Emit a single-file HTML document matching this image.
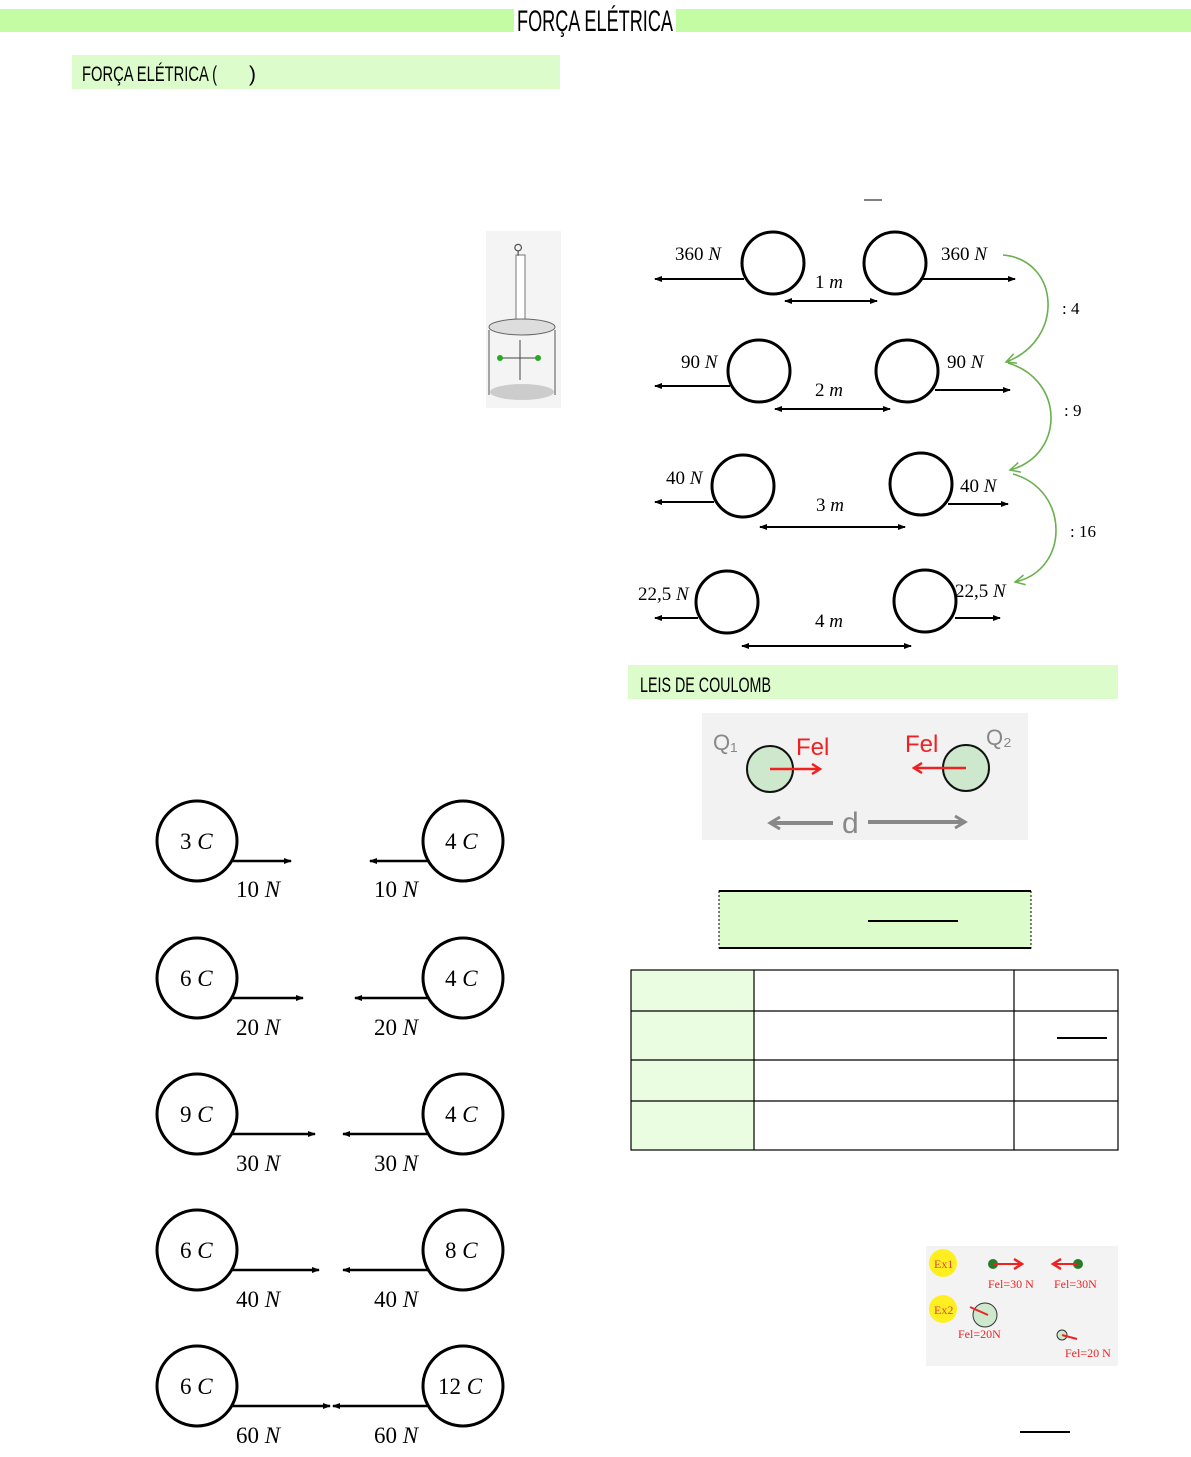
<!DOCTYPE html>
<html><head><meta charset="utf-8"><style>
html,body{margin:0;padding:0;background:#fff;}
svg{display:block;}
.h{font-family:"Liberation Sans Narrow","Liberation Sans",sans-serif;}
.m{font-family:"Liberation Serif",serif;font-size:19px;}
.i{font-style:italic;}
</style></head><body>
<svg width="1191" height="1457" viewBox="0 0 1191 1457" xmlns="http://www.w3.org/2000/svg">
<defs>
<marker id="a" markerWidth="8" markerHeight="8" refX="7" refY="4" orient="auto-start-reverse" markerUnits="userSpaceOnUse"><path d="M0,1 L8,4 L0,7 Z" fill="#000"/></marker>
<marker id="gr" markerWidth="16" markerHeight="16" refX="12" refY="8" orient="auto" markerUnits="userSpaceOnUse"><path d="M2,2 L12,8 L2,14" fill="none" stroke="#888" stroke-width="3"/></marker>
<marker id="g" markerWidth="12" markerHeight="12" refX="10" refY="6" orient="auto" markerUnits="userSpaceOnUse"><path d="M0,1 L10,6 L0,11" fill="none" stroke="#6ab04c" stroke-width="1.5"/></marker>
<marker id="r" markerWidth="12" markerHeight="12" refX="9" refY="6" orient="auto" markerUnits="userSpaceOnUse"><path d="M1,1 L9,6 L1,11" fill="none" stroke="#e22" stroke-width="2.5"/></marker>
</defs>
<!-- header -->
<rect x="0" y="9" width="1191" height="23" fill="#c4fca4"/>
<rect x="514" y="0" width="162" height="38" fill="#fff"/>
<text x="517" y="31" class="h" font-size="30" textLength="156" lengthAdjust="spacingAndGlyphs">FORÇA ELÉTRICA</text>
<rect x="72" y="55" width="488" height="34" fill="#dcfccc"/>
<text x="82" y="81" class="h" font-size="21" textLength="135" lengthAdjust="spacingAndGlyphs">FORÇA ELÉTRICA (</text>
<text x="249" y="81" class="h" font-size="21">)</text>
<!-- bobina image -->
<rect x="486" y="231" width="75" height="177" fill="#f4f4f4"/>
<rect x="516" y="255" width="9" height="70" fill="#fff" stroke="#777"/>
<text x="513" y="254" font-size="14" fill="#555">⚲</text>
<ellipse cx="522" cy="327" rx="33" ry="8" fill="#ddd" stroke="#666"/>
<path d="M489,330 V395 M555,330 V395" stroke="#555"/>
<ellipse cx="522" cy="392" rx="32" ry="8" fill="#ccc"/>
<path d="M500,358 H538 M520,340 V380" stroke="#444"/>
<circle cx="500" cy="358" r="3" fill="#2a2"/><circle cx="538" cy="358" r="3" fill="#2a2"/>
<!-- right diagram -->
<line x1="864" y1="200" x2="882" y2="200" stroke="#000"/>
<g fill="none" stroke="#000" stroke-width="3">
<circle cx="773" cy="263" r="31"/><circle cx="895" cy="263" r="31"/>
<circle cx="759" cy="371" r="31"/><circle cx="907" cy="371" r="31"/>
<circle cx="743" cy="486" r="31"/><circle cx="921" cy="484" r="31"/>
<circle cx="727" cy="602" r="31"/><circle cx="925" cy="601" r="31"/>
</g>
<g stroke="#000" stroke-width="2">
<line x1="744" y1="279" x2="655" y2="279" marker-end="url(#a)"/>
<line x1="920" y1="279" x2="1015" y2="279" marker-end="url(#a)"/>
<line x1="785" y1="301" x2="877" y2="301" marker-start="url(#a)" marker-end="url(#a)"/>
<line x1="730" y1="386" x2="655" y2="386" marker-end="url(#a)"/>
<line x1="935" y1="390" x2="1010" y2="390" marker-end="url(#a)"/>
<line x1="775" y1="409" x2="890" y2="409" marker-start="url(#a)" marker-end="url(#a)"/>
<line x1="714" y1="502" x2="655" y2="502" marker-end="url(#a)"/>
<line x1="948" y1="504" x2="1008" y2="504" marker-end="url(#a)"/>
<line x1="760" y1="527" x2="905" y2="527" marker-start="url(#a)" marker-end="url(#a)"/>
<line x1="698" y1="618" x2="655" y2="618" marker-end="url(#a)"/>
<line x1="955" y1="618" x2="1000" y2="618" marker-end="url(#a)"/>
<line x1="742" y1="646" x2="911" y2="646" marker-start="url(#a)" marker-end="url(#a)"/>
</g>
<g class="m">
<text x="675" y="260">360 <tspan class="i">N</tspan></text>
<text x="815" y="288">1 <tspan class="i">m</tspan></text>
<text x="941" y="260">360 <tspan class="i">N</tspan></text>
<text x="681" y="368">90 <tspan class="i">N</tspan></text>
<text x="815" y="396">2 <tspan class="i">m</tspan></text>
<text x="947" y="368">90 <tspan class="i">N</tspan></text>
<text x="666" y="484">40 <tspan class="i">N</tspan></text>
<text x="816" y="511">3 <tspan class="i">m</tspan></text>
<text x="960" y="492">40 <tspan class="i">N</tspan></text>
<text x="638" y="600">22,5 <tspan class="i">N</tspan></text>
<text x="815" y="627">4 <tspan class="i">m</tspan></text>
<text x="955" y="597">22,5 <tspan class="i">N</tspan></text>
<text x="1062" y="314" font-size="17">: 4</text>
<text x="1064" y="416" font-size="17">: 9</text>
<text x="1070" y="537" font-size="17">: 16</text>
</g>
<g fill="none" stroke="#6ab04c" stroke-width="1.6">
<path d="M1003,255 C1060,260 1065,340 1006,362" marker-end="url(#g)"/>
<path d="M1008,363 C1065,380 1065,455 1010,470" marker-end="url(#g)"/>
<path d="M1013,474 C1070,490 1070,570 1015,582" marker-end="url(#g)"/>
</g>
<!-- Leis de coulomb -->
<rect x="628" y="665" width="490" height="34" fill="#dcfccc"/>
<text x="640" y="692" class="h" font-size="21" textLength="131" lengthAdjust="spacingAndGlyphs">LEIS DE COULOMB</text>
<rect x="702" y="713" width="326" height="127" fill="#f2f2f2"/>
<circle cx="770" cy="769" r="23" fill="#cde8cc" stroke="#111" stroke-width="2"/>
<circle cx="966" cy="768" r="23" fill="#cde8cc" stroke="#111" stroke-width="2"/>
<line x1="770" y1="769" x2="820" y2="769" stroke="#e22" stroke-width="2.5" marker-end="url(#r)"/>
<line x1="966" y1="768" x2="914" y2="768" stroke="#e22" stroke-width="2.5" marker-end="url(#r)"/>
<text x="796" y="755" font-size="24" fill="#e22" font-family="Liberation Sans">Fel</text>
<text x="905" y="752" font-size="24" fill="#e22" font-family="Liberation Sans">Fel</text>
<text x="713" y="750" font-size="22" fill="#888" font-family="Liberation Sans">Q₁</text>
<text x="986" y="745" font-size="22" fill="#888" font-family="Liberation Sans">Q₂</text>
<line x1="833" y1="823" x2="770" y2="823" stroke="#888" stroke-width="4" marker-end="url(#gr)"/>
<line x1="868" y1="822" x2="965" y2="822" stroke="#888" stroke-width="4" marker-end="url(#gr)"/>
<text x="842" y="833" font-size="30" fill="#888" font-family="Liberation Sans">d</text>
<rect x="719" y="891" width="312" height="57" fill="#dcfccc" stroke="#000" stroke-dasharray="2,2"/>
<line x1="719" y1="891" x2="1031" y2="891" stroke="#000" stroke-width="2"/>
<line x1="719" y1="948" x2="1031" y2="948" stroke="#000" stroke-width="2"/>
<line x1="868" y1="921" x2="958" y2="921" stroke="#000" stroke-width="2"/>
<!-- table -->
<rect x="631" y="970" width="123" height="180" fill="#ebfde0"/>
<g stroke="#000" stroke-width="1.2" fill="none">
<rect x="631" y="970" width="487" height="180"/>
<line x1="754" y1="970" x2="754" y2="1150"/><line x1="1014" y1="970" x2="1014" y2="1150"/>
<line x1="631" y1="1011" x2="1118" y2="1011"/><line x1="631" y1="1060" x2="1118" y2="1060"/><line x1="631" y1="1101" x2="1118" y2="1101"/>
</g>
<line x1="1057" y1="1038" x2="1107" y2="1038" stroke="#000" stroke-width="2"/>
<!-- example image -->
<rect x="926" y="1246" width="192" height="120" fill="#f3f3f3"/>
<circle cx="943" cy="1263" r="14" fill="#ffef20"/><circle cx="943" cy="1309" r="14" fill="#ffef20"/>
<text x="934" y="1268" font-size="12" fill="#d44">Ex1</text><text x="934" y="1314" font-size="12" fill="#d44">Ex2</text>
<circle cx="993" cy="1264" r="5" fill="#2a7a2a"/><circle cx="1078" cy="1264" r="5" fill="#2a7a2a"/>
<line x1="994" y1="1264" x2="1022" y2="1264" stroke="#e22" stroke-width="2" marker-end="url(#r)"/>
<line x1="1077" y1="1264" x2="1053" y2="1264" stroke="#e22" stroke-width="2" marker-end="url(#r)"/>
<text x="988" y="1288" font-size="12" fill="#e22">Fel=30 N</text><text x="1054" y="1288" font-size="12" fill="#e22">Fel=30N</text>
<circle cx="985" cy="1315" r="12" fill="#cde8cc" stroke="#333"/>
<line x1="988" y1="1315" x2="970" y2="1307" stroke="#e22" stroke-width="2"/>
<text x="958" y="1338" font-size="12" fill="#e22">Fel=20N</text>
<circle cx="1062" cy="1335" r="5" fill="#cde8cc" stroke="#333"/>
<line x1="1062" y1="1335" x2="1077" y2="1339" stroke="#e22" stroke-width="2"/>
<text x="1065" y="1357" font-size="12" fill="#e22">Fel=20 N</text>
<line x1="1020" y1="1432" x2="1070" y2="1432" stroke="#000" stroke-width="2"/>
<!-- left charges -->
<g fill="none" stroke="#000" stroke-width="3">
<circle cx="197" cy="841" r="40"/><circle cx="463" cy="841" r="40"/>
<circle cx="197" cy="978" r="40"/><circle cx="463" cy="978" r="40"/>
<circle cx="197" cy="1114" r="40"/><circle cx="463" cy="1114" r="40"/>
<circle cx="197" cy="1250" r="40"/><circle cx="463" cy="1250" r="40"/>
<circle cx="197" cy="1386" r="40"/><circle cx="463" cy="1386" r="40"/>
</g>
<g stroke="#000" stroke-width="2.5">
<line x1="232" y1="861" x2="291" y2="861" marker-end="url(#a)"/><line x1="428" y1="861" x2="370" y2="861" marker-end="url(#a)"/>
<line x1="232" y1="998" x2="303" y2="998" marker-end="url(#a)"/><line x1="428" y1="998" x2="355" y2="998" marker-end="url(#a)"/>
<line x1="232" y1="1134" x2="315" y2="1134" marker-end="url(#a)"/><line x1="428" y1="1134" x2="343" y2="1134" marker-end="url(#a)"/>
<line x1="232" y1="1270" x2="319" y2="1270" marker-end="url(#a)"/><line x1="428" y1="1270" x2="343" y2="1270" marker-end="url(#a)"/>
<line x1="232" y1="1406" x2="330" y2="1406" marker-end="url(#a)"/><line x1="428" y1="1406" x2="333" y2="1406" marker-end="url(#a)"/>
</g>
<g class="m" style="font-size:23px">
<text x="180" y="849">3 <tspan class="i">C</tspan></text><text x="445" y="849">4 <tspan class="i">C</tspan></text>
<text x="236" y="897">10 <tspan class="i">N</tspan></text><text x="374" y="897">10 <tspan class="i">N</tspan></text>
<text x="180" y="986">6 <tspan class="i">C</tspan></text><text x="445" y="986">4 <tspan class="i">C</tspan></text>
<text x="236" y="1035">20 <tspan class="i">N</tspan></text><text x="374" y="1035">20 <tspan class="i">N</tspan></text>
<text x="180" y="1122">9 <tspan class="i">C</tspan></text><text x="445" y="1122">4 <tspan class="i">C</tspan></text>
<text x="236" y="1171">30 <tspan class="i">N</tspan></text><text x="374" y="1171">30 <tspan class="i">N</tspan></text>
<text x="180" y="1258">6 <tspan class="i">C</tspan></text><text x="445" y="1258">8 <tspan class="i">C</tspan></text>
<text x="236" y="1307">40 <tspan class="i">N</tspan></text><text x="374" y="1307">40 <tspan class="i">N</tspan></text>
<text x="180" y="1394">6 <tspan class="i">C</tspan></text><text x="438" y="1394">12 <tspan class="i">C</tspan></text>
<text x="236" y="1443">60 <tspan class="i">N</tspan></text><text x="374" y="1443">60 <tspan class="i">N</tspan></text>
</g>
</svg>
</body></html>
